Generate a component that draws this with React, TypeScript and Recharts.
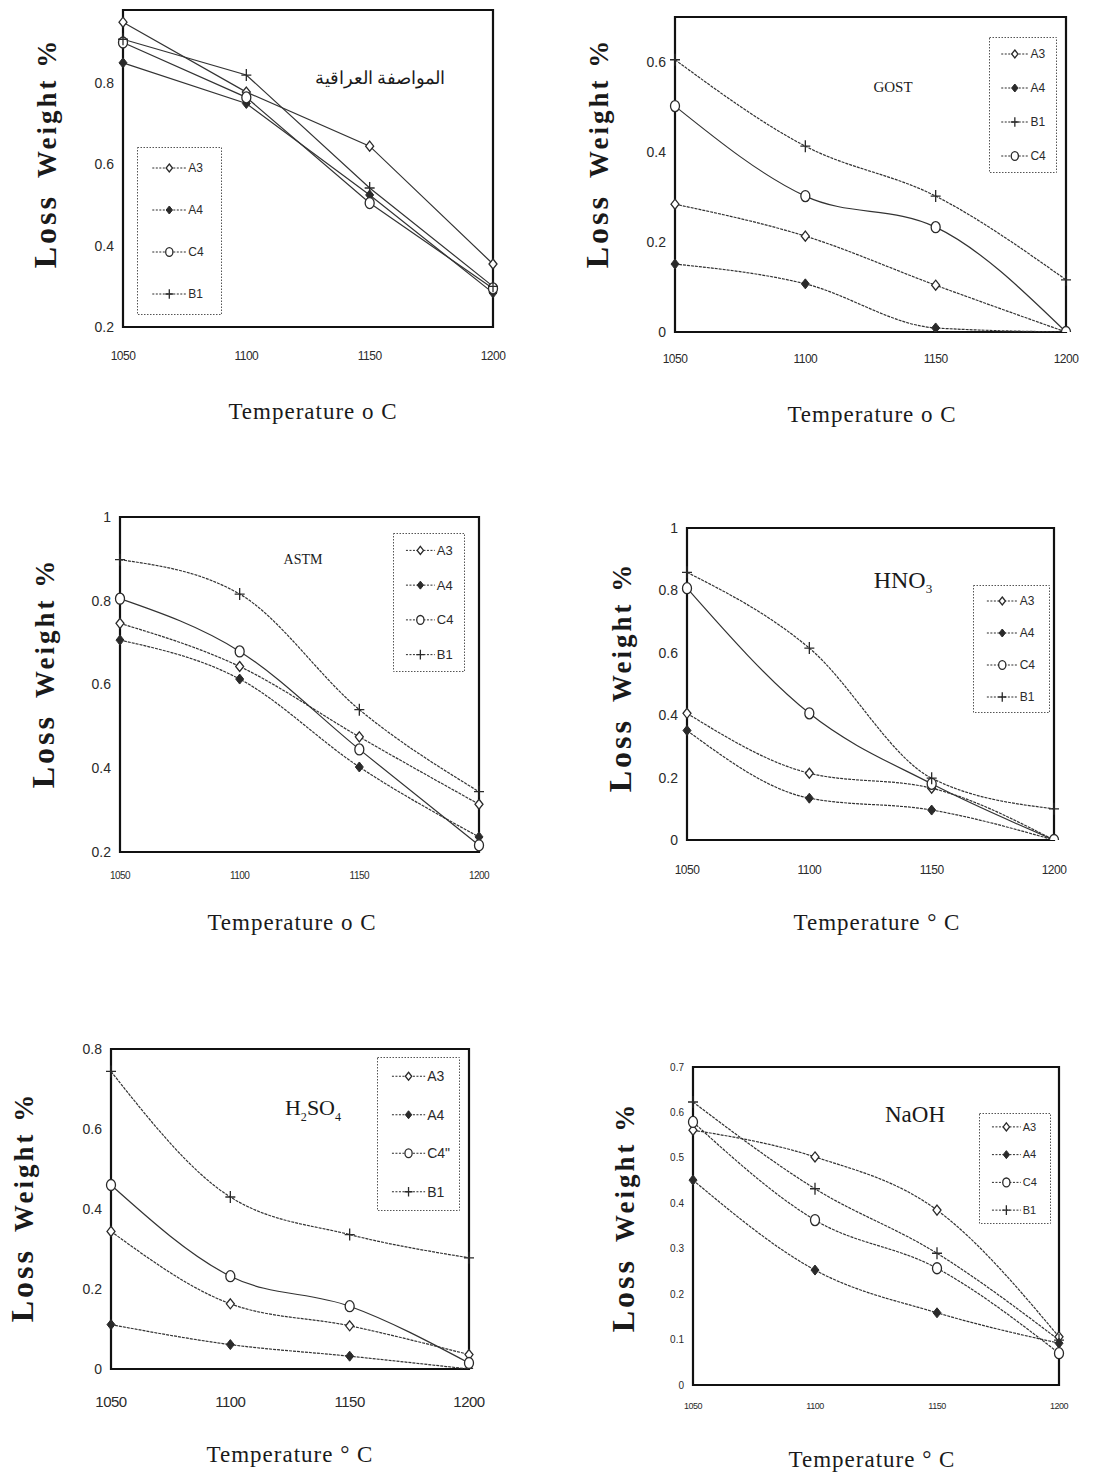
import React from 'react';
import { LineChart, Line, XAxis, YAxis, ReferenceArea, Legend } from 'recharts';

// temperature steps, shared by every panel
const temps = [1050, 1100, 1150, 1200];

// Iraqi specification
const iqA3 = [0.95, 0.778, 0.645, 0.355];
const iqA4 = [0.85, 0.75, 0.525, 0.284];
const iqC4 = [0.9, 0.765, 0.505, 0.295];
const iqB1 = [0.908, 0.82, 0.542, 0.3];

// GOST
const gostA3 = [0.284, 0.213, 0.104, 0];
const gostA4 = [0.151, 0.107, 0.009, 0];
const gostB1 = [0.605, 0.413, 0.302, 0.116];
const gostC4 = [0.502, 0.302, 0.233, 0];

// ASTM
const astmA3 = [0.746, 0.643, 0.475, 0.314];
const astmA4 = [0.706, 0.613, 0.403, 0.236];
const astmC4 = [0.805, 0.679, 0.445, 0.216];
const astmB1 = [0.898, 0.816, 0.54, 0.344];

// HNO3
const hnoA3 = [0.406, 0.214, 0.166, 0];
const hnoA4 = [0.351, 0.134, 0.096, 0];
const hnoC4 = [0.807, 0.406, 0.18, 0];
const hnoB1 = [0.858, 0.615, 0.198, 0.1];

// H2SO4
const hsoA3 = [0.344, 0.163, 0.108, 0.036];
const hsoA4 = [0.111, 0.061, 0.032, 0];
const hsoC4 = [0.46, 0.232, 0.157, 0.015];
const hsoB1 = [0.744, 0.43, 0.336, 0.278];

// NaOH
const naA3 = [0.561, 0.502, 0.385, 0.106];
const naA4 = [0.451, 0.253, 0.159, 0.092];
const naC4 = [0.579, 0.363, 0.257, 0.07];
const naB1 = [0.623, 0.432, 0.29, 0.099];

const ticks02 = [0.2, 0.4, 0.6, 0.8];
const ticksGost = [0, 0.2, 0.4, 0.6];
const ticksAstm = [0.2, 0.4, 0.6, 0.8, 1];
const ticksHno = [0, 0.2, 0.4, 0.6, 0.8, 1];
const ticksHso = [0, 0.2, 0.4, 0.6, 0.8];
const ticksNa = [0, 0.1, 0.2, 0.3, 0.4, 0.5, 0.6, 0.7];

const INK = '#2a2a2a';

function rows(a3: number[], a4: number[], c4: number[], b1: number[]) {
  return temps.map((t, i) => ({ t, A3: a3[i], A4: a4[i], C4: c4[i], B1: b1[i] }));
}

function marker(kind: string, cx: number, cy: number, s = 1) {
  if (kind === 'A3')
    return <path d={`M${cx},${cy - 5 * s}L${cx + 4 * s},${cy}L${cx},${cy + 5 * s}L${cx - 4 * s},${cy}Z`} fill="#fff" stroke={INK} strokeWidth={1.3} />;
  if (kind === 'A4')
    return <path d={`M${cx},${cy - 5 * s}L${cx + 4 * s},${cy}L${cx},${cy + 5 * s}L${cx - 4 * s},${cy}Z`} fill={INK} stroke={INK} strokeWidth={1} />;
  if (kind === 'C4')
    return <ellipse cx={cx} cy={cy} rx={4.5 * s} ry={5.5 * s} fill="#fff" stroke={INK} strokeWidth={1.3} />;
  return (
    <path d={`M${cx - 5 * s},${cy}H${cx + 5 * s}M${cx},${cy - 6 * s}V${cy + 6 * s}`} stroke={INK} strokeWidth={1.3} fill="none" />
  );
}

type Panel = {
  data: ReturnType<typeof rows>;
  plot: { x: number; y: number; w: number; h: number };
  yDomain: [number, number];
  yTicks: number[];
  yFont: number;
  xFont: number;
  xTickGap: number;
  curve: 'linear' | 'monotone';
  legendOrder: string[];
  legendLabels?: Record<string, string>;
  legendBox: { x: number; y: number; w: number; h: number };
  legendFont: number;
  title: React.ReactNode;
  titleAt: [number, number];
  titleFont: number;
  yLabelAt: [number, number];
  xLabelAt: [number, number];
  xLabel: string;
  dashed?: string[];
};

const panels: Panel[] = [
  {
    data: rows(iqA3, iqA4, iqC4, iqB1),
    plot: { x: 123, y: 10, w: 370, h: 317 },
    yDomain: [0.2, 0.98], yTicks: ticks02, yFont: 14, xFont: 12, xTickGap: 24,
    curve: 'linear',
    legendOrder: ['A3', 'A4', 'C4', 'B1'],
    legendBox: { x: 137, y: 147, w: 85, h: 168 }, legendFont: 12,
    title: <span dir="rtl">المواصفة العراقية</span>, titleAt: [380, 78], titleFont: 18,
    yLabelAt: [45, 153], xLabelAt: [313, 412], xLabel: 'Temperature o C',
  },
  {
    data: rows(gostA3, gostA4, gostC4, gostB1),
    plot: { x: 675, y: 17, w: 391, h: 315 },
    yDomain: [0, 0.7], yTicks: ticksGost, yFont: 14, xFont: 12, xTickGap: 22,
    curve: 'monotone',
    legendOrder: ['A3', 'A4', 'B1', 'C4'],
    legendBox: { x: 989, y: 37, w: 68, h: 136 }, legendFont: 12,
    title: 'GOST', titleAt: [893, 87], titleFont: 15,
    yLabelAt: [597, 153], xLabelAt: [872, 415], xLabel: 'Temperature o C',
    dashed: ['A4', 'A3', 'B1'],
  },
  {
    data: rows(astmA3, astmA4, astmC4, astmB1),
    plot: { x: 120, y: 517, w: 359, h: 335 },
    yDomain: [0.2, 1], yTicks: ticksAstm, yFont: 14, xFont: 10, xTickGap: 20,
    curve: 'monotone',
    legendOrder: ['A3', 'A4', 'C4', 'B1'],
    legendBox: { x: 393, y: 533, w: 72, h: 139 }, legendFont: 13,
    title: 'ASTM', titleAt: [303, 560], titleFont: 14,
    yLabelAt: [43, 673], xLabelAt: [292, 923], xLabel: 'Temperature o C',
    dashed: ['A3', 'A4', 'B1'],
  },
  {
    data: rows(hnoA3, hnoA4, hnoC4, hnoB1),
    plot: { x: 687, y: 528, w: 367, h: 312 },
    yDomain: [0, 1], yTicks: ticksHno, yFont: 14, xFont: 12, xTickGap: 25,
    curve: 'monotone',
    legendOrder: ['A3', 'A4', 'C4', 'B1'],
    legendBox: { x: 973, y: 585, w: 77, h: 128 }, legendFont: 12,
    title: <span>HNO<sub style={{ fontSize: '0.55em' }}>3</sub></span>, titleAt: [903, 582], titleFont: 24,
    yLabelAt: [620, 677], xLabelAt: [877, 923], xLabel: 'Temperature \u00b0 C',
    dashed: ['A3', 'A4', 'B1'],
  },
  {
    data: rows(hsoA3, hsoA4, hsoC4, hsoB1),
    plot: { x: 111, y: 1049, w: 358, h: 320 },
    yDomain: [0, 0.8], yTicks: ticksHso, yFont: 14, xFont: 15, xTickGap: 27,
    curve: 'monotone',
    legendOrder: ['A3', 'A4', 'C4', 'B1'],
    legendLabels: { C4: 'C4"' },
    legendBox: { x: 377, y: 1057, w: 83, h: 154 }, legendFont: 14,
    title: <span>H<sub style={{ fontSize: '0.55em' }}>2</sub>SO<sub style={{ fontSize: '0.55em' }}>4</sub></span>,
    titleAt: [313, 1110], titleFont: 22,
    yLabelAt: [22, 1207], xLabelAt: [290, 1455], xLabel: 'Temperature \u00b0 C',
    dashed: ['A3', 'A4', 'B1'],
  },
  {
    data: rows(naA3, naA4, naC4, naB1),
    plot: { x: 693, y: 1067, w: 366, h: 318 },
    yDomain: [0, 0.7], yTicks: ticksNa, yFont: 10, xFont: 9, xTickGap: 18,
    curve: 'monotone',
    legendOrder: ['A3', 'A4', 'C4', 'B1'],
    legendBox: { x: 979, y: 1113, w: 72, h: 111 }, legendFont: 11,
    title: 'NaOH', titleAt: [915, 1115], titleFont: 23,
    yLabelAt: [623, 1217], xLabelAt: [872, 1460], xLabel: 'Temperature \u00b0 C',
    dashed: ['A3', 'A4', 'C4', 'B1'],
  },
];

const ML = 70, MT = 20, MR = 30, MB = 50, YW = 55, XH = 40;

function LegendBox({ p }: { p: Panel }) {
  const b = p.legendBox;
  const step = b.h / p.legendOrder.length;
  return (
    <svg width={b.w} height={b.h} style={{ display: 'block', overflow: 'visible' }}>
      <rect x={0.5} y={0.5} width={b.w - 1} height={b.h - 1} fill="#fff" stroke="#555" strokeDasharray="1.5 1.5" />
      {p.legendOrder.map((k, i) => {
        const cy = step * (i + 0.5);
        const x0 = b.w * 0.18, x1 = b.w * 0.58;
        return (
          <g key={k}>
            <line x1={x0} x2={x1} y1={cy} y2={cy} stroke={INK} strokeDasharray="2 1.5" strokeWidth={1} />
            {marker(k, (x0 + x1) / 2, cy, 0.8)}
            <text x={x1 + 2} y={cy} dy="0.35em" fontSize={p.legendFont} fontFamily="Liberation Sans, Arial" fill={INK}>
              {p.legendLabels?.[k] ?? k}
            </text>
          </g>
        );
      })}
    </svg>
  );
}

function PanelChart({ p }: { p: Panel }) {
  const W = p.plot.w + ML + MR;
  const H = p.plot.h + MT + MB;
  const left = p.plot.x - ML;
  const top = p.plot.y - MT;
  const series = ['A3', 'A4', 'C4', 'B1'];
  return (
    <div style={{ position: 'absolute', left, top, width: W, height: H }}>
      <LineChart width={W} height={H} data={p.data}
        margin={{ top: MT, right: MR, bottom: MB - XH, left: ML - YW }}>
        <XAxis dataKey="t" type="number" domain={[1050, 1200]} ticks={temps} height={XH}
          tickLine={false} axisLine={false} tickSize={0} tickMargin={p.xTickGap}
          tick={{ fill: INK, fontSize: p.xFont, fontFamily: 'Liberation Sans, Arial', letterSpacing: -0.5 }} />
        <YAxis type="number" domain={p.yDomain} ticks={p.yTicks} width={YW} allowDataOverflow
          tickLine={false} axisLine={false} tickSize={0} tickMargin={9}
          tick={{ fill: INK, fontSize: p.yFont, fontFamily: 'Liberation Sans, Arial' }} />
        <ReferenceArea x1={1050} x2={1200} y1={p.yDomain[0]} y2={p.yDomain[1]}
          fill="none" stroke="#111" strokeWidth={2.2} ifOverflow="visible" />
        {series.map((k) => (
          <Line key={k} dataKey={k} type={p.curve} stroke="#333" strokeWidth={1.2}
            strokeDasharray={p.dashed?.includes(k) ? '3 1' : undefined}
            isAnimationActive={false}
            dot={(d: any) => (d.cx == null ? <g key={`${k}${d.index}`} /> :
              <g key={`${k}${d.index}`}>{marker(k, d.cx, d.cy)}</g>)}
            activeDot={false} />
        ))}
        <Legend layout="horizontal" verticalAlign="middle" align="center"
          wrapperStyle={{ left: p.legendBox.x - left, top: p.legendBox.y - top, width: p.legendBox.w, height: p.legendBox.h }}
          content={() => <LegendBox p={p} />} />
      </LineChart>
    </div>
  );
}

const serif = '"Liberation Serif", "DejaVu Serif", serif';

export default function App() {
  return (
    <div style={{ position: 'absolute', left: 0, top: 0, width: 1097, height: 1477, background: '#fff', overflow: 'hidden', color: '#1a1a1a' }}>
      {panels.map((p, i) => (
        <React.Fragment key={i}>
          <PanelChart p={p} />
          <div style={{ position: 'absolute', left: p.titleAt[0], top: p.titleAt[1], transform: 'translate(-50%, -50%)', fontFamily: serif, fontSize: p.titleFont, whiteSpace: 'nowrap' }}>
            {p.title}
          </div>
          <div style={{ position: 'absolute', left: p.yLabelAt[0], top: p.yLabelAt[1], transform: 'translate(-50%, -50%) rotate(-90deg)', fontFamily: serif, fontWeight: 'bold', whiteSpace: 'nowrap', letterSpacing: 3 }}>
            <span style={{ fontSize: 32 }}>Loss</span>
            <span style={{ fontSize: 27, marginLeft: 16 }}>Weight %</span>
          </div>
          <div style={{ position: 'absolute', left: p.xLabelAt[0], top: p.xLabelAt[1], transform: 'translate(-50%, -50%)', fontFamily: serif, fontSize: 23, whiteSpace: 'nowrap', letterSpacing: 1 }}>
            {p.xLabel}
          </div>
        </React.Fragment>
      ))}
    </div>
  );
}
